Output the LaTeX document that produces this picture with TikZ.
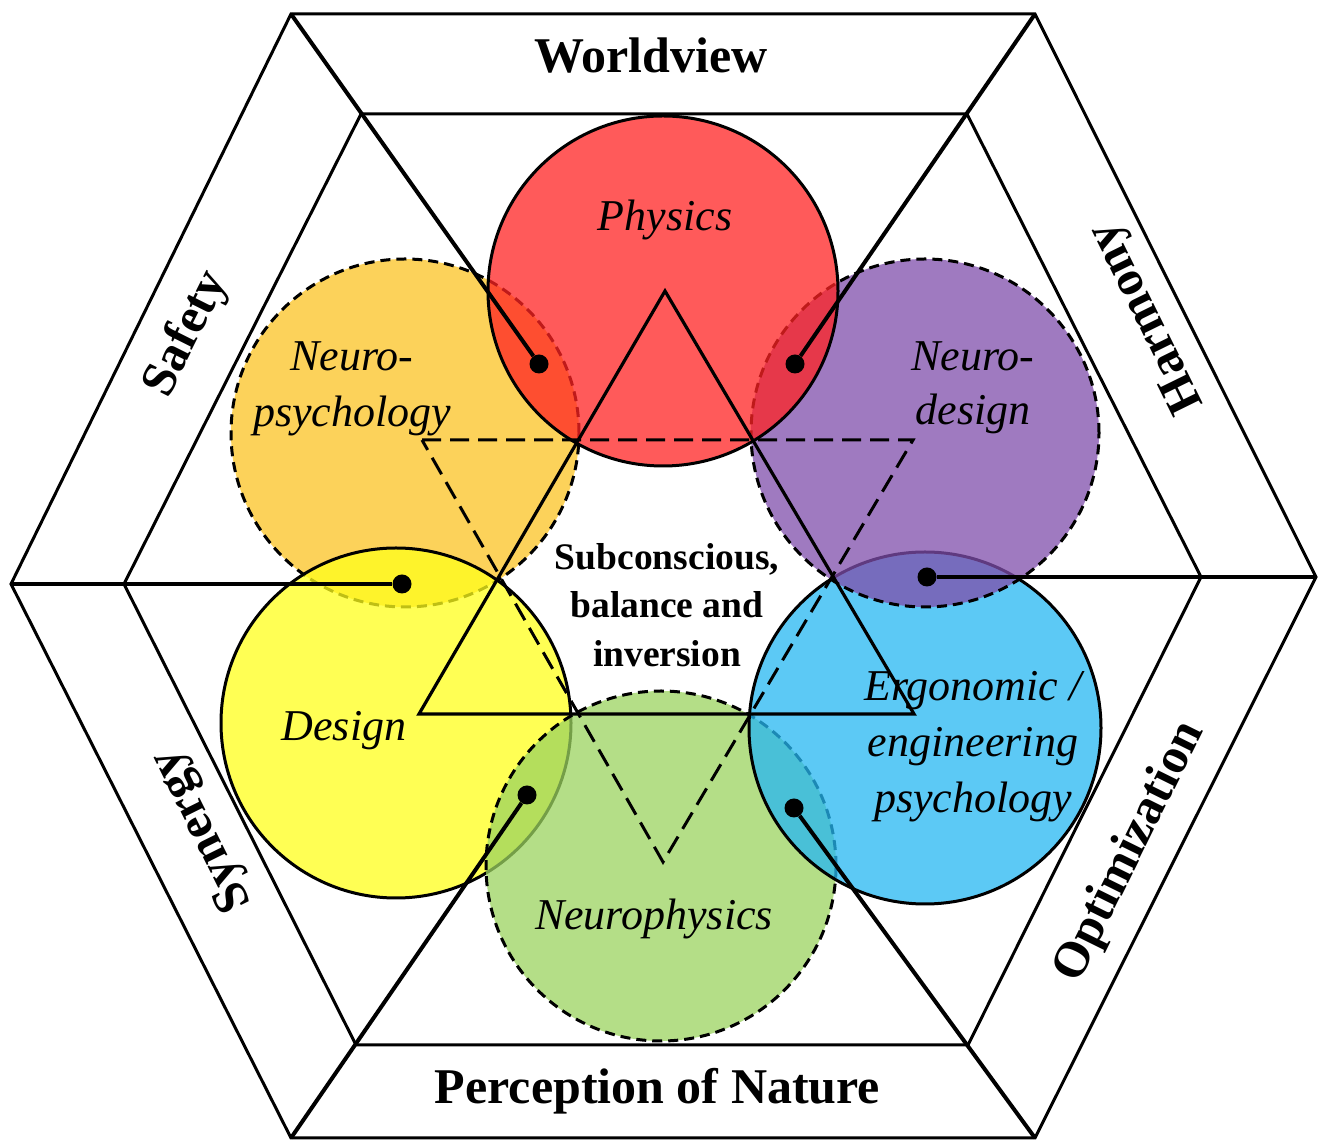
\documentclass[tikz,border=0pt]{standalone}
\usepackage{fontspec}
\setmainfont{Liberation Serif}
\definecolor{cRed}{RGB}{255,35,35}
\definecolor{cOrange}{RGB}{251,196,35}
\definecolor{cPurple}{RGB}{128,78,171}
\definecolor{cYellow}{RGB}{255,255,28}
\definecolor{cBlue}{RGB}{38,183,242}
\definecolor{cGreen}{RGB}{156,211,96}
\begin{document}
\begin{tikzpicture}[x=1pt,y=1pt,
  frame/.style={line width=3pt, line join=miter},
  pin/.style={line width=4pt},
  pindot/.style={circle, fill=black, inner sep=0pt, minimum size=19pt},
  solidc/.style={circle, draw=black, line width=3pt, fill opacity=0.75, inner sep=0pt},
  dashc/.style={circle, draw=black, line width=3pt, dash pattern=on 10pt off 6pt, fill opacity=0.75, inner sep=0pt},
  tri/.style={line width=3.2pt, line join=miter},
  dtri/.style={line width=3pt, dash pattern=on 19pt off 9pt},
  ital/.style={font=\fontsize{44}{56}\selectfont\itshape, anchor=base, inner sep=0pt},
  head/.style={font=\fontsize{50}{60}\selectfont\bfseries, anchor=base, inner sep=0pt},
  side/.style={font=\fontsize{50}{60}\selectfont\bfseries, inner sep=0pt},
  core/.style={font=\fontsize{37.5}{48.7}\selectfont\bfseries, anchor=base, inner sep=0pt},
]
\fill[white] (0,0) rectangle (1322,1140);
\useasboundingbox (0,0) rectangle (1322,1140);

% hexagon frame
\coordinate (oTL) at (291,1126);
\coordinate (oTR) at (1035,1126);
\coordinate (oR) at (1316,563);
\coordinate (oBR) at (1035,2);
\coordinate (oBL) at (291,2);
\coordinate (oL) at (11,556);
\coordinate (iTL) at (361,1026);
\coordinate (iTR) at (967,1026);
\coordinate (iR) at (1201,563);
\coordinate (iBR) at (968,95);
\coordinate (iBL) at (356,95);
\coordinate (iL) at (124,556);
\draw[frame] (oTL) -- (oTR) -- (oR) -- (oBR) -- (oBL) -- (oL) -- cycle;
\draw[frame] (iTL) -- (iTR) -- (iR) -- (iBR) -- (iBL) -- (iL) -- cycle;

% circles
\node[dashc, fill=cOrange, minimum size=348pt] (cNpsy) at (405,707) {};
\node[solidc, fill=cYellow, minimum size=350pt] (cDes) at (396,417) {};
\node[dashc, fill=cGreen, minimum size=350pt] (cNphys) at (661,274) {};
\node[solidc, fill=cBlue, minimum size=352pt] (cErg) at (925,412) {};
\node[dashc, fill=cPurple, minimum size=348pt] (cNdes) at (925,707) {};
\node[solidc, fill=cRed, minimum size=350pt] (cPhys) at (663,849) {};

% triangles
\coordinate (sA) at (665,849);
\coordinate (sB) at (419,426);
\coordinate (sC) at (914,426);
\coordinate (dA) at (422,700);
\coordinate (dB) at (913,700);
\coordinate (dC) at (663,278);
\draw[tri] (sA) -- (sB) -- (sC) -- cycle;
\draw[dtri] (dA) -- (dB) -- (dC) -- cycle;

% pins
\node[pindot] (d1) at (539,776) {};
\node[pindot] (d2) at (795,776) {};
\node[pindot] (d3) at (402,556) {};
\node[pindot] (d4) at (927,563) {};
\node[pindot] (d5) at (527,345) {};
\node[pindot] (d6) at (794,332) {};
\draw[pin] (oTL) -- (d1);
\draw[pin] (oTR) -- (d2);
\draw[pin] (oL) -- (d3);
\draw[pin] (oR) -- (d4);
\draw[pin] (oBL) -- (d5);
\draw[pin] (oBR) -- (d6);

% frame labels
\node[head] (tWorld) at (651,1067.3) {Worldview};
\node[head] (tNature) at (657.5,36) {Perception of Nature};
\node[side, rotate=63.4] (tSafety) at (187,806) {Safety};
\node[side, rotate=116.2] (tHarmony) at (1148,823) {Harmony};
\node[side, rotate=116.4] (tSynergy) at (203,310) {Synergy};
\node[side, rotate=63.7] (tOptim) at (1130,288) {Optimization};

% circle labels
\node[ital] (lPhys) at (665,909.3) {Physics};
\node[ital] (lNpsy) at (352,769) {\begin{tabular}[t]{@{}c@{}}Neuro-\\psychology\end{tabular}};
\node[ital, font=\fontsize{44}{54}\selectfont\itshape] (lNdes) at (973,769) {\begin{tabular}[t]{@{}c@{}}Neuro-\\design\end{tabular}};
\node[ital] (lDes) at (344,399) {Design};
\node[ital] (lErg) at (973,439) {\begin{tabular}[t]{@{}c@{}}Ergonomic /\\engineering\\psychology\end{tabular}};
\node[ital] (lNphys) at (654,210) {Neurophysics};

% centre
\node[core] (lCore) at (667,570.7) {\begin{tabular}[t]{@{}c@{}}Subconscious,\\balance and\\inversion\end{tabular}};
\end{tikzpicture}
\end{document}
